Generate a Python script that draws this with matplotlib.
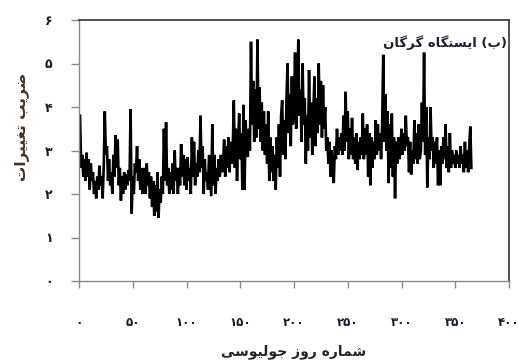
import numpy as np
import matplotlib
matplotlib.use("Agg")
import matplotlib.pyplot as plt

# Daily coefficient of variation, Gorgan station (Julian days 1..364)
cv_jan = [3.8, 2.6, 2.9, 2.4, 2.8, 2.3, 2.95, 2.4, 2.8, 2.1, 2.7, 2.3, 2.5, 2.0, 2.3, 1.9,
          2.4, 2.1, 2.65, 2.2, 2.4, 1.9, 2.6, 3.9, 2.9, 3.1, 2.3, 2.8, 2.2, 2.5, 2.0]
cv_feb = [2.9, 2.4, 3.35, 2.6, 3.25, 2.2, 2.6, 1.85, 2.4, 2.0, 2.5, 2.1, 2.45, 2.2, 2.55, 2.3,
          3.95, 1.55, 2.4, 2.0, 2.7, 2.5, 3.1, 2.3, 2.8, 2.1, 2.6, 2.0]
cv_mar = [2.4, 2.6, 2.0, 2.7, 2.2, 2.5, 1.9, 2.4, 1.7, 2.3, 1.5, 2.2, 1.6, 2.5, 1.45, 2.1,
          1.8, 2.4, 2.0, 3.5, 2.3, 3.65, 2.2, 2.6, 2.0, 2.5, 2.1, 2.7, 2.0, 3.0, 2.3]
cv_apr = [2.6, 2.0, 2.6, 2.2, 3.15, 2.4, 2.9, 2.2, 2.8, 2.1, 2.85, 2.3, 2.6, 2.0, 3.3, 2.4,
          3.2, 2.2, 2.7, 2.4, 3.0, 2.5, 3.8, 2.6, 3.1, 2.0, 2.8, 2.3, 2.5, 2.1]
cv_may = [2.9, 2.4, 1.95, 3.6, 2.2, 2.9, 2.0, 2.6, 2.3, 2.8, 2.4, 2.9, 2.5, 2.7, 3.25, 2.4,
          3.1, 2.6, 3.3, 2.5, 3.2, 2.7, 3.0, 4.15, 2.6, 3.5, 2.3, 3.2, 3.85, 2.8, 3.4]
cv_jun = [2.1, 4.05, 2.1, 3.7, 3.0, 2.85, 3.5, 3.0, 5.5, 3.6, 4.6, 3.2, 4.4, 3.3, 5.55, 3.5,
          4.45, 3.2, 4.1, 3.0, 3.9, 2.9, 3.6, 2.7, 3.9, 2.3, 3.3, 2.5, 3.1, 2.3]
cv_jul = [2.9, 2.1, 3.3, 2.6, 3.6, 2.4, 3.8, 4.15, 2.9, 3.7, 2.8, 4.2, 5.0, 3.4, 4.3, 3.1,
          4.7, 3.6, 4.0, 5.25, 3.5, 4.2, 5.55, 3.8, 4.4, 3.2, 5.0, 3.6, 4.2, 2.7, 3.8]
cv_aug = [3.0, 4.85, 3.3, 4.1, 2.9, 3.9, 4.7, 3.1, 4.2, 3.4, 5.0, 3.6, 4.6, 3.3, 4.5, 3.5,
          4.0, 3.0, 3.3, 2.7, 3.2, 2.4, 3.0, 2.5, 2.25, 3.1, 2.8, 3.5, 2.9, 3.3, 3.0]
cv_sep = [3.4, 2.9, 3.8, 3.0, 4.35, 3.2, 3.9, 2.8, 3.5, 2.9, 3.75, 2.8, 3.3, 2.7, 3.4, 2.55,
          3.2, 2.8, 3.3, 2.9, 3.85, 2.8, 3.5, 2.9, 3.6, 2.4, 3.4, 2.2, 3.3, 2.6]
cv_oct = [3.2, 2.8, 3.7, 2.9, 3.6, 3.0, 3.4, 2.8, 3.6, 5.2, 3.2, 4.3, 3.0, 3.9, 2.25, 3.6,
          2.6, 3.85, 2.4, 3.3, 1.9, 3.2, 2.7, 3.3, 2.8, 3.0, 3.5, 2.9, 3.4, 3.0, 3.8]
cv_nov = [3.1, 3.3, 2.5, 3.2, 2.45, 3.0, 2.7, 3.7, 2.8, 3.4, 2.7, 3.6, 2.8, 3.0, 4.1, 3.2,
          5.25, 2.9, 4.0, 2.15, 3.3, 2.8, 4.0, 3.0, 3.3, 2.6, 3.2, 2.7, 3.3, 2.2]
cv_dec = [3.0, 2.2, 3.1, 2.7, 3.3, 2.8, 3.6, 2.6, 3.1, 2.5, 3.4, 2.6, 3.0, 2.7, 2.9, 2.6,
          3.0, 2.7, 2.9, 2.6, 3.1, 2.7, 2.9, 2.5, 3.2, 2.6, 3.0, 2.5, 3.1, 3.55, 2.6]

cv = np.array(cv_jan + cv_feb + cv_mar + cv_apr + cv_may + cv_jun +
              cv_jul + cv_aug + cv_sep + cv_oct + cv_nov + cv_dec)
days = np.arange(1, len(cv) + 1)

x_ticks = [0, 50, 100, 150, 200, 250, 300, 350, 400]
y_ticks = [0, 1, 2, 3, 4, 5, 6]

title_text = "(ب) ایستگاه گرگان"
x_label = "شماره روز جولیوسی"
y_label = "ضریب تغییرات"

# Arabic-script contextual forms: (isolated, final, initial, medial)
FORMS = {
    'ا': ('\uFE8D', '\uFE8E', None, None),
    'ب': ('\uFE8F', '\uFE90', '\uFE91', '\uFE92'),
    'ت': ('\uFE95', '\uFE96', '\uFE97', '\uFE98'),
    'ج': ('\uFE9D', '\uFE9E', '\uFE9F', '\uFEA0'),
    'ر': ('\uFEAD', '\uFEAE', None, None),
    'ز': ('\uFEAF', '\uFEB0', None, None),
    'س': ('\uFEB1', '\uFEB2', '\uFEB3', '\uFEB4'),
    'ش': ('\uFEB5', '\uFEB6', '\uFEB7', '\uFEB8'),
    'ض': ('\uFEBD', '\uFEBE', '\uFEBF', '\uFEC0'),
    'غ': ('\uFECD', '\uFECE', '\uFECF', '\uFED0'),
    'ل': ('\uFEDD', '\uFEDE', '\uFEDF', '\uFEE0'),
    'م': ('\uFEE1', '\uFEE2', '\uFEE3', '\uFEE4'),
    'ن': ('\uFEE5', '\uFEE6', '\uFEE7', '\uFEE8'),
    'ه': ('\uFEE9', '\uFEEA', '\uFEEB', '\uFEEC'),
    'و': ('\uFEED', '\uFEEE', None, None),
    'گ': ('\uFB92', '\uFB93', '\uFB94', '\uFB95'),
    'ی': ('\uFBFC', '\uFBFD', '\uFBFE', '\uFBFF'),
}


def shape_rtl(text):
    """Join letters into contextual forms and lay the text out right-to-left."""
    out = []
    n = len(text)
    for i, ch in enumerate(text):
        if ch not in FORMS:
            out.append(ch)
            continue
        iso, fin, ini, med = FORMS[ch]
        prev = text[i - 1] if i > 0 else ''
        nxt = text[i + 1] if i < n - 1 else ''
        join_prev = prev in FORMS and FORMS[prev][2] is not None
        join_next = nxt in FORMS and ini is not None
        if join_prev and join_next:
            out.append(med)
        elif join_prev:
            out.append(fin)
        elif join_next:
            out.append(ini)
        else:
            out.append(iso)
    vis = ''.join(reversed(out))
    return vis.translate(str.maketrans('()', ')('))


def fa_digits(v):
    return str(v).translate(str.maketrans('0123456789', '۰۱۲۳۴۵۶۷۸۹'))


plt.rcParams['font.family'] = ['DejaVu Sans']

fig = plt.figure(figsize=(5.18, 3.61), dpi=100)
ax = fig.add_axes([79 / 518, 1 - 281 / 361, 430 / 518, 261 / 361])

ax.plot(days, cv, color='black', lw=1.9, solid_joinstyle='miter')

ax.set_xlim(0, 400)
ax.set_ylim(0, 6)
ax.set_xticks(x_ticks)
ax.set_yticks(y_ticks)
ax.set_xticklabels([fa_digits(v) for v in x_ticks], fontsize=8.5, fontweight='bold',
                   color='#1a1a2a')
ax.set_yticklabels([fa_digits(v) for v in y_ticks], fontsize=9, fontweight='bold',
                   color='#1a1a2a')

for side in ('left', 'bottom'):
    ax.spines[side].set_color('#8a8a8a')
    ax.spines[side].set_linewidth(1.0)
for side in ('top', 'right'):
    ax.spines[side].set_color('#333333')
    ax.spines[side].set_linewidth(1.2)

ax.tick_params(axis='x', direction='out', length=5, width=1.0, color='#8a8a8a', pad=20)
ax.tick_params(axis='y', direction='out', length=6, width=1.0, color='#8a8a8a', pad=13)

ax.text(0.995, 0.915, shape_rtl(title_text), transform=ax.transAxes, ha='right',
        va='center', fontsize=9.5, fontweight='bold', color='#1e2030')

fig.text(294 / 518, 1 - 352 / 361, shape_rtl(x_label), ha='center', va='center',
         fontsize=10, fontweight='bold', color='#2a2420')
fig.text(22 / 518, 1 - 127 / 361, shape_rtl(y_label), ha='center', va='center',
         rotation=90, fontsize=11, fontweight='bold', color='#4a3020')

fig.savefig('out.png', dpi=100)
